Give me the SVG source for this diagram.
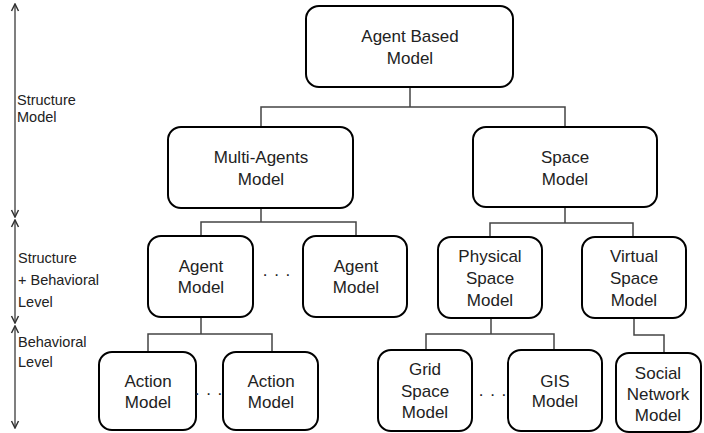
<svg xmlns="http://www.w3.org/2000/svg" width="704" height="433" viewBox="0 0 704 433">
<defs>
<style>
.box{fill:#fff;stroke:#000;stroke-width:2}
.t{font-family:"Liberation Sans",Arial,sans-serif;font-size:17px;fill:#222;text-anchor:middle}
.l{font-family:"Liberation Sans",Arial,sans-serif;font-size:14.5px;fill:#222}
.c{fill:none;stroke:#444;stroke-width:1.5}
.a{fill:none;stroke:#555;stroke-width:1.5}
</style>
<marker id="ah" viewBox="0 0 10 10" refX="9" refY="5" markerWidth="10" markerHeight="10" markerUnits="userSpaceOnUse" orient="auto-start-reverse">
<polyline points="2,1.5 9,5 2,8.5" fill="none" stroke="#333" stroke-width="1.5"/>
</marker>
</defs>
<rect width="704" height="433" fill="#fff"/>
<g id="levels">
<line class="a" x1="15" y1="4" x2="15" y2="217" marker-start="url(#ah)" marker-end="url(#ah)"/>
<line class="a" x1="15" y1="220" x2="15" y2="323" marker-start="url(#ah)" marker-end="url(#ah)"/>
<line class="a" x1="15" y1="326" x2="15" y2="428" marker-start="url(#ah)" marker-end="url(#ah)"/>
<text class="l" x="17" y="105">Structure</text>
<text class="l" x="17" y="122">Model</text>
<text class="l" x="18" y="263">Structure</text>
<text class="l" x="18" y="285">+ Behavioral</text>
<text class="l" x="18" y="307">Level</text>
<text class="l" x="18" y="347">Behavioral</text>
<text class="l" x="18" y="367">Level</text>
</g>
<g id="connectors">
<polyline class="c" points="410,87 410,107"/>
<polyline class="c" points="261,127 261,107 565,107 565,127"/>
<polyline class="c" points="261,208 261,222"/>
<polyline class="c" points="201,236 201,222 356,222 356,236"/>
<polyline class="c" points="565,207 565,223"/>
<polyline class="c" points="490,237 490,223 633,223 633,237"/>
<polyline class="c" points="201,317 201,334"/>
<polyline class="c" points="148,352 148,334 272,334 272,352"/>
<polyline class="c" points="491,318 491,334"/>
<polyline class="c" points="426,350 426,334 554,334 554,350"/>
<polyline class="c" points="634,318 634,335 664,335 664,353"/>
</g>
<g id="n-abm"><rect class="box" x="306" y="6" width="207" height="81" rx="13"/><text class="t" x="410" y="42">Agent Based</text><text class="t" x="410" y="64">Model</text></g>
<g id="n-multi"><rect class="box" x="168" y="127" width="185" height="81" rx="13"/><text class="t" x="261" y="163">Multi-Agents</text><text class="t" x="261" y="185">Model</text></g>
<g id="n-space"><rect class="box" x="473" y="127" width="184" height="80" rx="13"/><text class="t" x="565" y="163">Space</text><text class="t" x="565" y="185">Model</text></g>
<g id="n-agent1"><rect class="box" x="148" y="236" width="105" height="81" rx="13"/><text class="t" x="201" y="272">Agent</text><text class="t" x="201" y="293">Model</text></g>
<g id="n-agent2"><rect class="box" x="303" y="236" width="104" height="81" rx="13"/><text class="t" x="356" y="272">Agent</text><text class="t" x="356" y="293">Model</text></g>
<text class="t" x="277" y="276" style="letter-spacing:1px">. . .</text>
<g id="n-phys"><rect class="box" x="438" y="237" width="104" height="81" rx="13"/><text class="t" x="490" y="262">Physical</text><text class="t" x="490" y="284">Space</text><text class="t" x="490" y="306">Model</text></g>
<g id="n-virt"><rect class="box" x="582" y="237" width="104" height="81" rx="13"/><text class="t" x="634" y="262">Virtual</text><text class="t" x="634" y="284">Space</text><text class="t" x="634" y="306">Model</text></g>
<g id="n-action1"><rect class="box" x="99" y="352" width="97" height="78" rx="13"/><text class="t" x="148" y="387">Action</text><text class="t" x="148" y="408">Model</text></g>
<g id="n-action2"><rect class="box" x="223" y="352" width="95" height="78" rx="13"/><text class="t" x="271" y="387">Action</text><text class="t" x="271" y="408">Model</text></g>
<text class="t" x="209" y="395" style="letter-spacing:1px">. . .</text>
<g id="n-grid"><rect class="box" x="378" y="350" width="94" height="81" rx="13"/><text class="t" x="425" y="375">Grid</text><text class="t" x="425" y="397">Space</text><text class="t" x="425" y="418">Model</text></g>
<g id="n-gis"><rect class="box" x="508" y="350" width="94" height="81" rx="13"/><text class="t" x="555" y="387">GIS</text><text class="t" x="555" y="407">Model</text></g>
<text class="t" x="493" y="396" style="letter-spacing:1px">. . .</text>
<g id="n-social"><rect class="box" x="616" y="353" width="85" height="79" rx="13"/><text class="t" x="658" y="379">Social</text><text class="t" x="658" y="400">Network</text><text class="t" x="658" y="421">Model</text></g>
</svg>
